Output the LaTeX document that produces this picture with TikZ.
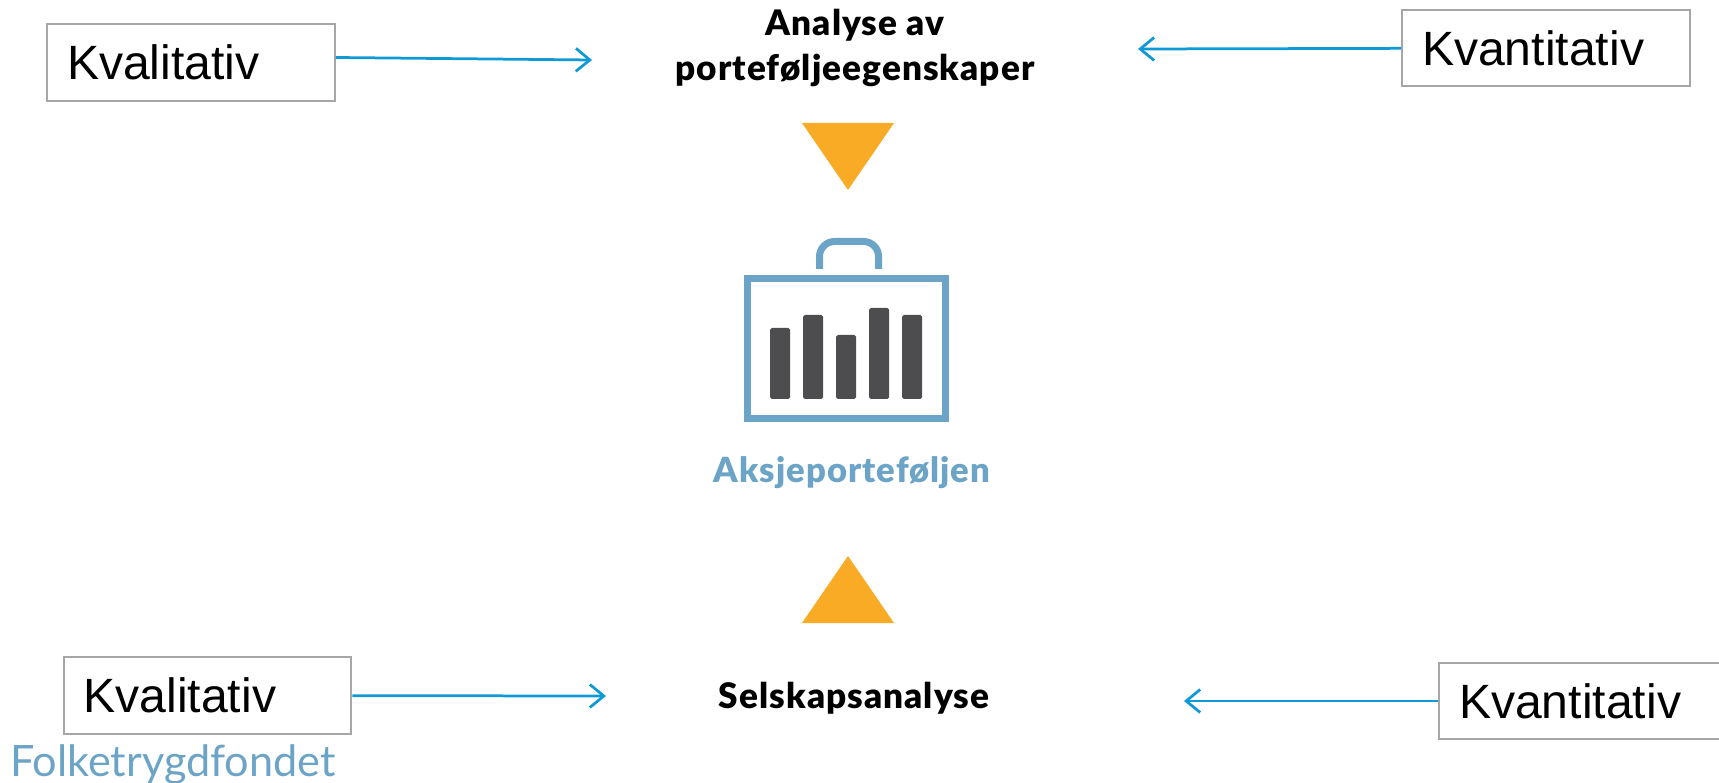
\documentclass[tikz,border=0pt]{standalone}
\usepackage{fontspec}
\setmainfont{Liberation Sans}
\newfontfamily\titlefont[LetterSpace=3]{Lato Black}
\newfontfamily\logofont{Lato}
\usetikzlibrary{arrows.meta}
\definecolor{linkblue}{HTML}{0F9AD6}
\definecolor{caseblue}{HTML}{6BA4C6}
\definecolor{bargrey}{HTML}{4D4D4F}
\definecolor{triorange}{HTML}{FAAB26}
\definecolor{boxgrey}{HTML}{A6A6A6}

\begin{document}
\begin{tikzpicture}[x=0.02cm, y=-0.02cm,
                    line width=0.04cm,
                    box node/.style={rectangle,draw=boxgrey,fill=white,minimum height=1.54cm,
                      text width=4.96cm,inner xsep=0.4cm,inner ysep=0pt,align=left,
                      font=\fontsize{27.4}{32}\selectfont},
                    title node/.style={align=center,inner sep=0pt,
                      font=\titlefont\fontsize{20}{25.6}\selectfont},
                    bar node/.style={bargrey,rounded corners=1pt},
                    link/.style={linkblue,line width=0.055cm,-{Straight Barb[length=0.28cm,width=0.46cm]}}]
  \useasboundingbox (0,0) rectangle (1719,783);

  \node[box node] (1) at (191,62.5) {Kvalitativ};
  \node[box node] (2) at (1546,48) {Kvantitativ};
  \node[box node] (3) at (207.5,695.5) {Kvalitativ};
  \node[box node] (4) at (1583,701) {Kvantitativ};

  \node[title node] (A) at (855,48) {Analyse av\\porteføljeegenskaper};
  \node[title node] (S) at (854,698) {Selskapsanalyse};
  \node[title node,text=caseblue,font=\titlefont\fontsize{19.7}{24}\selectfont] (P) at (852,473) {Aksjeporteføljen};
  \node[inner sep=0pt,text=caseblue,font=\logofont\fontsize{24.6}{28}\selectfont] (F) at (173,765) {Folketrygdfondet};

  \coordinate (a1) at (592,60);
  \coordinate (a2) at (1138,49);
  \coordinate (s1) at (606,696);
  \coordinate (s2) at (1184,701);

  \path[link]
    ([yshift=0.1cm]1.east) edge (a1)
    (2) edge (a2)
    (3) edge (s1)
    (4) edge (s2);

  \fill[triorange] (802,123) -- (894,123) -- (848,190) -- cycle;
  \fill[triorange] (802,623) -- (894,623) -- (848,556) -- cycle;

  \draw[caseblue,line width=0.14cm] (747.5,278.5) rectangle (945.5,418.5);
  \draw[caseblue,line width=0.14cm,rounded corners=0.3cm] (819.5,269) -- (819.5,241.5) -- (878.5,241.5) -- (878.5,269);

  \fill[bar node] (770,328) rectangle (790,399);
  \fill[bar node] (803,315) rectangle (823,399);
  \fill[bar node] (836,335) rectangle (856,399);
  \fill[bar node] (869,308) rectangle (889,399);
  \fill[bar node] (902,315) rectangle (922,399);
\end{tikzpicture}
\end{document}
